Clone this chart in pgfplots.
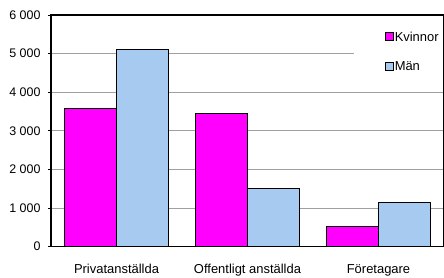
\documentclass[border=0pt]{standalone}
\usepackage{fontspec}
\setmainfont{Liberation Sans}
\usepackage{pgfplots}
\pgfplotsset{compat=1.18}
\definecolor{kv}{RGB}{255,0,255}
\definecolor{man}{RGB}{166,202,240}
\definecolor{gridc}{RGB}{160,160,160}
\begin{document}
\begin{tikzpicture}
\path[use as bounding box] (-51bp,-31.3bp) rectangle (393bp,246.7bp);
\begin{axis}[
  scale only axis,
  width=393bp, height=231.7bp,
  xmin=-0.5, xmax=2.5, ymin=0, ymax=6000,
  ybar=0pt, bar width=52.4bp,
  xtick={0,1,2},
  xticklabels={Privatanställda,Offentligt anställda,Företagare},
  ytick={0,1000,2000,3000,4000,5000,6000},
  /pgf/number format/assume math mode=true,
  /pgf/number format/1000 sep={\ },
  yticklabel style={font=\fontsize{12.5}{14}\selectfont, xshift=-4bp},
  xticklabel style={font=\fontsize{13}{15}\selectfont, yshift=-11bp},
  major x tick style={draw=none},
  ytick style={black, line width=0.8pt},
  tick align=outside, major tick length=3bp,
  ymajorgrids, grid style={gridc, line width=0.8pt},
  axis line style={black, line width=1.1pt},
  legend style={at={(0.771,0.948)}, anchor=north west, draw=none, fill=white,
    font=\fontsize{13}{15}\selectfont, row sep=17bp, inner xsep=3bp, inner ysep=3.5bp,
    nodes={inner sep=1bp},
    /tikz/every even column/.append style={column sep=0bp}},
  legend image code/.code={\path[draw=none, fill=none] (0bp,0bp) -- (36bp,0bp);
    \draw[#1, line width=1.1pt] (28bp,-3.5bp) rectangle (36bp,4.5bp);},
  legend cell align=left,
]
\addplot[fill=kv, draw=black, line width=1.1pt] coordinates {(0,3590) (1,3460) (2,520)};
\addplot[fill=man, draw=black, line width=1.1pt] coordinates {(0,5110) (1,1500) (2,1140)};
\legend{Kvinnor,Män}
\end{axis}
\end{tikzpicture}
\end{document}
